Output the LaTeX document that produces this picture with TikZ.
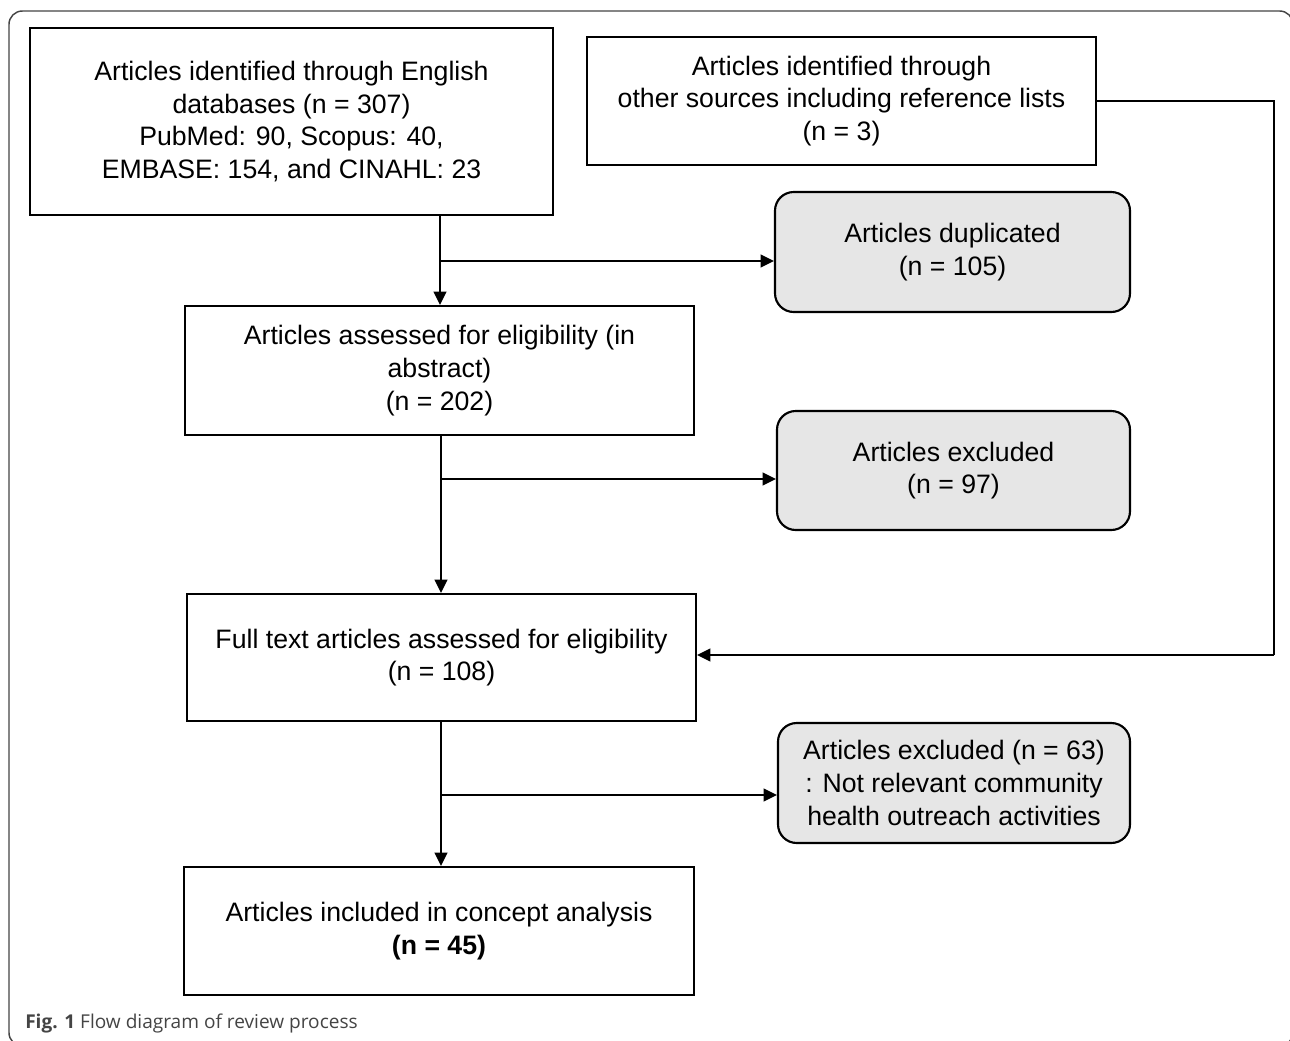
\documentclass[tikz,border=0pt]{standalone}
\usepackage{fontspec}
\setmainfont{Liberation Sans}
\newfontfamily\capfont{Open Sans}
\usetikzlibrary{arrows.meta}
\definecolor{boxgray}{HTML}{E6E6E6}
\definecolor{framegray}{HTML}{444444}
\tikzset{
  box/.style={draw=black, line width=1.6pt, inner sep=0pt, align=center,
    font=\fontsize{20}{24.5}\selectfont},
  graybox/.style={box, fill=boxgray, rounded corners=14pt},
  conn/.style={line width=1.4pt},
  arr/.style={conn, -{Triangle[length=10pt,width=9.5pt]}}
}
\begin{document}
\begin{tikzpicture}[x=0.75pt,y=-0.75pt]
\useasboundingbox (0,0) rectangle (1290,1040);
\draw[framegray, line width=1.1pt, rounded corners=10pt] (9,11) rectangle (1293,1046);
% nodes
\node[box, minimum width=523*0.75pt, minimum height=187*0.75pt] (A) at (291.5,121.5)
  {Articles identified through English\\databases (n = 307)\\PubMed: 90, Scopus: 40,\\EMBASE: 154, and CINAHL: 23};
\node[box, minimum width=509*0.75pt, minimum height=128*0.75pt] (B) at (841.5,101)
  {Articles identified through\\other sources including reference lists\\(n = 3)};
\node[graybox, minimum width=355*0.75pt, minimum height=120*0.75pt] (dup) at (952.5,252)
  {Articles duplicated\\(n = 105)};
\node[box, minimum width=509*0.75pt, minimum height=129*0.75pt] (C) at (439.5,370.5)
  {Articles assessed for eligibility (in\\abstract)\\(n = 202)};
\node[graybox, minimum width=353*0.75pt, minimum height=119*0.75pt] (ex1) at (953.5,470.5)
  {Articles excluded\\(n = 97)};
\node[box, minimum width=509*0.75pt, minimum height=127*0.75pt] (D) at (441.5,657.5)
  {Full text articles assessed for eligibility\\(n = 108)};
\node[graybox, minimum width=352*0.75pt, minimum height=120*0.75pt] (ex2) at (954,783)
  {Articles excluded (n = 63)\\: Not relevant community\\health outreach activities};
\node[box, minimum width=510*0.75pt, minimum height=128*0.75pt] (E) at (439,931)
  {Articles included in concept analysis\\\textbf{(n = 45)}};
% connectors
\coordinate (a1) at (440,261);
\draw[arr] (A.south -| a1) -- (C.north -| a1);
\draw[arr] (a1) -- (a1 -| dup.west);
\coordinate (c1) at (441,479);
\draw[arr] (C.south -| c1) -- (D.north -| c1);
\draw[arr] (c1) -- (c1 -| ex1.west);
\coordinate (d1) at (441,795);
\draw[arr] (D.south -| d1) -- (E.north -| d1);
\draw[arr] (d1) -- (d1 -| ex2.west);
\coordinate (b1) at (1274,101);
\coordinate (b2) at (1274,655);
\draw[conn, line width=1.1pt] (B.east |- b1) -- (b1) -- (b2);
\draw[arr] (b2) -- (b2 -| D.east);
% caption
\node[anchor=base west, inner sep=0pt, text=framegray, font=\capfont\fontsize{14.3}{17}\selectfont] (cap) at (25,1028)
  {\textbf{Fig. 1} Flow diagram of review process};
\end{tikzpicture}
\end{document}
